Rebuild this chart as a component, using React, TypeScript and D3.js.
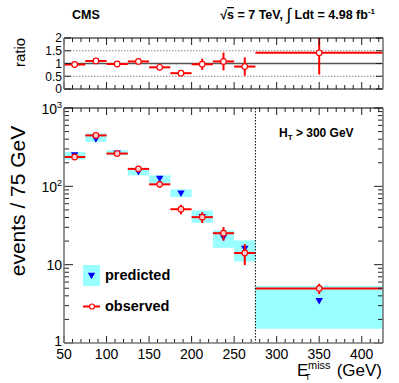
import React from 'react';
import * as d3 from 'd3';

// bins in MET (GeV)
const binEdges = [50, 75, 100, 125, 150, 175, 200, 225, 250, 275, 425];
const observed = [237, 447, 262, 167, 106, 51, 40.4, 25.2, 14.1, 4.97];
const observedErr = [15, 21, 16, 13, 10, 7, 6.4, 5, 4.2, 0.75];
const predicted = [255, 409, 270, 156, 128, 83, 41.6, 22.8, 16.4, 3.52];
const predictedLow = [220, 370, 250, 138, 108, 73, 34.3, 16.4, 11.0, 1.52];
const predictedHigh = [275, 474, 289, 172, 138, 91.5, 49.2, 27.3, 20.4, 5.37];
const ratio = [0.96, 1.1, 0.98, 1.08, 0.85, 0.62, 0.97, 1.08, 0.88, 1.42];
const ratioErr = [0.06, 0.05, 0.06, 0.08, 0.09, 0.09, 0.22, 0.35, 0.36, 0.85];

const xTicks = [50, 100, 150, 200, 250, 300, 350, 400];
const yDecades = [1, 10, 100, 1000];
const ratioTicks = [0, 0.5, 1, 1.5, 2];

const W = 399;
const H = 383;
const left = 64;
const right = 383;
const font = '"Liberation Sans", Arial, Helvetica, sans-serif';
const RED = '#ff0000';
const CYAN = '#99ffff';
const BLUE = '#0000ff';

const x = d3.scaleLinear().domain([50, 425]).range([left, right]);
const y = d3.scaleLog().domain([1, 1000]).range([343, 108]);
const yr = d3.scaleLinear().domain([0, 2]).range([89, 38]);

const bins = observed.map((_, i) => ({ lo: binEdges[i], hi: binEdges[i + 1], mid: (binEdges[i] + binEdges[i + 1]) / 2 }));
const tri = d3.symbol().type(d3.symbolTriangle).size(24)()!;

const minorX = d3.range(50, 426, 10);
const minorY = yDecades.slice(0, 3).flatMap(d => d3.range(2, 10).map(k => k * d));

function XTicks({ top, bottom }: { top: number; bottom: number }) {
  return (
    <g stroke="#222" strokeWidth={1}>
      {minorX.map(v => {
        const len = v % 50 === 0 ? 7 : 4;
        return (
          <g key={v}>
            <line x1={x(v)} x2={x(v)} y1={bottom} y2={bottom - len} />
            <line x1={x(v)} x2={x(v)} y1={top} y2={top + len} />
          </g>
        );
      })}
    </g>
  );
}

export default function App() {
  const [y0, y1] = [y.range()[0], y.range()[1]];
  const [r0, r1] = [yr.range()[0], yr.range()[1]];
  return (
    <div style={{ position: 'absolute', left: 0, top: 0 }}>
      <svg width={W} height={H} style={{ display: 'block', background: '#fff' }} fontFamily={font}>
        <defs>
          <clipPath id="rclip"><rect x={left} y={r1} width={right - left} height={r0 - r1} /></clipPath>
          <clipPath id="mclip"><rect x={left} y={y1} width={right - left} height={y0 - y1} /></clipPath>
        </defs>

        {/* header */}
        <text x={72} y={19} fontSize={12.5} fontWeight="bold">CMS</text>
        <text x={375} y={19} fontSize={12.5} fontWeight="bold" textAnchor="end">
          <tspan>√</tspan>
          <tspan textDecoration="overline">s</tspan>
          <tspan> = 7 TeV, </tspan>
          <tspan fontSize={17} fontWeight="normal" dy={1}>∫</tspan>
          <tspan dy={-1}> Ldt = 4.98 fb</tspan>
          <tspan fontSize={8} dy={-5}>-1</tspan>
        </text>

        {/* ratio panel */}
        <g>
          {[0.5, 1.5].map(v => (
            <line key={v} x1={left} x2={right} y1={yr(v)} y2={yr(v)} stroke="#888" strokeDasharray="1.5,1.5" />
          ))}
          <line x1={left} x2={right} y1={yr(1)} y2={yr(1)} stroke="#555" strokeWidth={1.5} />
          <g clipPath="url(#rclip)">
            {bins.map((b, i) => (
              <g key={i} stroke={RED} strokeWidth={2}>
                <line x1={x(b.lo)} x2={x(b.hi)} y1={yr(ratio[i])} y2={yr(ratio[i])} />
                <line x1={x(b.mid)} x2={x(b.mid)} y1={yr(ratio[i] - ratioErr[i])} y2={yr(ratio[i] + ratioErr[i])} />
                <circle cx={x(b.mid)} cy={yr(ratio[i])} r={2.8} fill="#fff" strokeWidth={1.2} />
              </g>
            ))}
          </g>
          <XTicks top={r1} bottom={r0} />
          {ratioTicks.map(v => (
            <g key={v}>
              <line x1={left} x2={left + 7} y1={yr(v)} y2={yr(v)} stroke="#222" />
              <line x1={right} x2={right - 7} y1={yr(v)} y2={yr(v)} stroke="#222" />
              <text x={62} y={yr(v)} dy="0.36em" fontSize={12} textAnchor="end">{v}</text>
            </g>
          ))}
          <line x1={left} x2={right} y1={r1} y2={r1} stroke="#000" />
          <line x1={left} x2={right} y1={r0} y2={r0} stroke="#000" />
          <line x1={left} x2={left} y1={r1} y2={r0} stroke="#777" strokeWidth={1.6} />
          <line x1={right} x2={right} y1={r1} y2={r0} stroke="#777" strokeWidth={1.6} />
          <text transform={`translate(25,${(r0 + r1) / 2 - 11}) rotate(-90)`} fontSize={15} textAnchor="middle">ratio</text>
        </g>

        {/* main panel */}
        <g>
          <g clipPath="url(#mclip)">
            {bins.map((b, i) => (
              <rect key={i} x={x(b.lo)} width={x(b.hi) - x(b.lo)} y={y(predictedHigh[i])}
                height={y(predictedLow[i]) - y(predictedHigh[i])} fill={CYAN} />
            ))}
            {bins.map((b, i) => (
              <path key={i} d={tri} fill={BLUE} transform={`translate(${x(b.mid)},${y(predicted[i])}) rotate(180)`} />
            ))}
            {bins.map((b, i) => (
              <g key={i} stroke={RED} strokeWidth={2}>
                <line x1={x(b.lo)} x2={x(b.hi)} y1={y(observed[i])} y2={y(observed[i])} />
                <line x1={x(b.mid)} x2={x(b.mid)} y1={y(observed[i] - observedErr[i])} y2={y(observed[i] + observedErr[i])} />
                <circle cx={x(b.mid)} cy={y(observed[i])} r={2.8} fill="#fff" fillOpacity={0.8} strokeWidth={1.2} />
              </g>
            ))}
          </g>
          <line x1={x(275)} x2={x(275)} y1={y1} y2={y0} stroke="#000" strokeDasharray="1.5,1.5" />
          <XTicks top={y1} bottom={y0} />
          {minorY.map(v => (
            <g key={v} stroke="#222">
              <line x1={left} x2={left + 5} y1={y(v)} y2={y(v)} />
              <line x1={right} x2={right - 5} y1={y(v)} y2={y(v)} />
            </g>
          ))}
          {yDecades.map(v => (
            <g key={v}>
              <line x1={left} x2={left + 9} y1={y(v)} y2={y(v)} stroke="#222" />
              <line x1={right} x2={right - 9} y1={y(v)} y2={y(v)} stroke="#222" />
              {v === 1 ? (
                <text x={62} y={y(v) - 2} dy="0.35em" fontSize={14} textAnchor="end">{v}</text>
              ) : v < 100 ? (
                <text x={62} y={y(v)} dy="0.4em" fontSize={14} textAnchor="end">{v}</text>
              ) : (
                <text x={62} y={y(v)} dy="0.4em" fontSize={14} textAnchor="end">
                  10<tspan fontSize={9} dy={-6}>{Math.round(Math.log10(v))}</tspan>
                </text>
              )}
            </g>
          ))}
          {xTicks.map(v => (
            <text key={v} x={x(v)} y={359} fontSize={14} textAnchor="middle">{v}</text>
          ))}
          <line x1={left} x2={right} y1={y1} y2={y1} stroke="#000" />
          <line x1={left} x2={right} y1={y0} y2={y0} stroke="#777" strokeWidth={1.6} />
          <line x1={left} x2={left} y1={y1} y2={y0} stroke="#777" strokeWidth={1.6} />
          <line x1={right} x2={right} y1={y1} y2={y0} stroke="#777" strokeWidth={1.6} />

          <text x={279} y={137} fontSize={12} fontWeight="bold">
            H<tspan fontSize={8} dy={3}>T</tspan><tspan dy={-3}> &gt; 300 GeV</tspan>
          </text>

          <text transform="translate(25,201) rotate(-90)" fontSize={21} textAnchor="middle">events / 75 GeV</text>

          <text x={297} y={376} fontSize={17}>E</text>
          <text x={308} y={369} fontSize={11}>miss</text>
          <text x={305} y={380} fontSize={9}>T</text>
          <text x={382} y={376} fontSize={17} textAnchor="end">(GeV)</text>

          {/* legend */}
          <rect x={83} y={265} width={17} height={21} fill={CYAN} />
          <path d={tri} fill={BLUE} transform="translate(91.5,275) rotate(180)" />
          <text x={105} y={280} fontSize={14.5} fontWeight="bold">predicted</text>
          <line x1={83} x2={100} y1={306.5} y2={306.5} stroke={RED} strokeWidth={2} />
          <circle cx={92} cy={306.5} r={2.5} fill="#fff" stroke={RED} strokeWidth={1.2} />
          <text x={105} y={311} fontSize={14.5} fontWeight="bold">observed</text>
        </g>
      </svg>
    </div>
  );
}
